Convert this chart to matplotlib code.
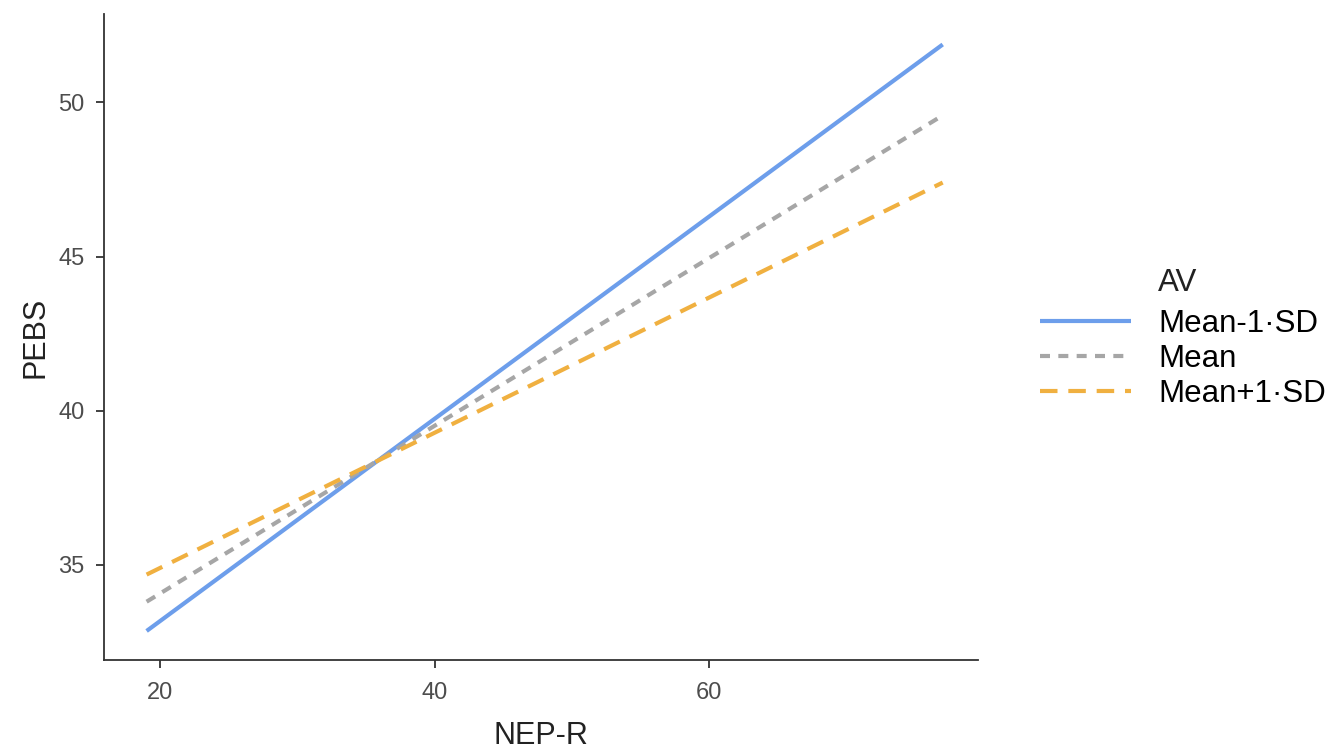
import numpy as np
import matplotlib.pyplot as plt

plt.rcParams['font.family'] = ['Liberation Sans', 'DejaVu Sans']

# simple slopes: PEBS predicted by NEP-R at three levels of AV
nep_range = [19, 77]
groups = ['Mean-1·SD', 'Mean', 'Mean+1·SD']
pebs_start = [32.85, 33.8, 34.68]
pebs_end = [51.88, 49.58, 47.4]

colors = ['#6d9eeb', '#a6a6a6', '#f0b040']
styles = ['-', (0, (2.4, 2.0)), (0, (4.2, 2.6))]

fig = plt.figure(figsize=(13.41, 7.52), dpi=100)
ax = fig.add_axes([0.0776, 0.122, 0.652, 0.859])

for name, y0, y1, c, ls in zip(groups, pebs_start, pebs_end, colors, styles):
    ax.plot(nep_range, [y0, y1], color=c, linestyle=ls, linewidth=3.0,
            label=name, solid_capstyle='butt', dash_capstyle='butt')

ax.set_xlim(15.9, 79.6)
ax.set_ylim(31.9, 52.86)
ax.set_xticks([20, 40, 60])
ax.set_yticks([35, 40, 45, 50])

for side in ['top', 'right']:
    ax.spines[side].set_visible(False)
for side in ['left', 'bottom']:
    ax.spines[side].set_linewidth(1.3)
    ax.spines[side].set_color('#333333')

ax.tick_params(axis='both', labelsize=17, colors='#333333', length=6, width=1.3,
               labelcolor='#4d4d4d')
ax.tick_params(axis='x', pad=10)
ax.tick_params(axis='y', pad=8)
ax.set_xlabel('NEP-R', fontsize=22, color='#222222', labelpad=12)
ax.set_ylabel('PEBS', fontsize=22, color='#222222', labelpad=6)

leg = ax.legend(loc='center left', bbox_to_anchor=(1040 / 1341, 1 - 359 / 752),
                bbox_transform=fig.transFigure, frameon=False, fontsize=22.5,
                handlelength=2.9, handletextpad=0.9, labelspacing=0.16,
                borderpad=0, borderaxespad=0)
fig.text(1158 / 1341, 1 - 283 / 752, 'AV', fontsize=22.5, color='#222222',
         ha='left', va='center')

fig.savefig('out.png', dpi=100)
